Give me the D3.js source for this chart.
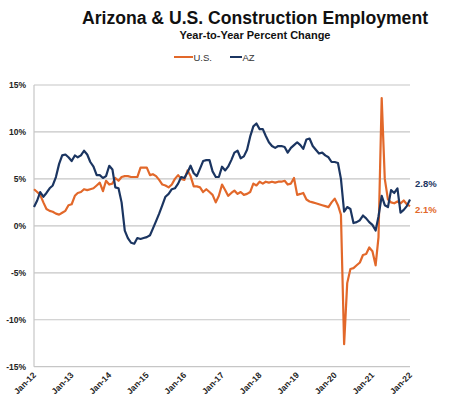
<!DOCTYPE html>
<html><head><meta charset="utf-8">
<script src="https://cdn.jsdelivr.net/npm/d3@7/dist/d3.min.js"></script>
<style>body{margin:0;background:#fff}svg{display:block}</style>
</head><body>
<svg id="c" width="450" height="407"></svg>
<script>
const startDate = "2012-01";
const usValues = [3.9,3.6,3.3,2.5,1.8,1.6,1.5,1.3,1.2,1.4,1.6,2.2,
2.3,3.2,3.5,3.6,3.9,3.8,3.9,4.0,4.3,4.6,3.7,4.8,
4.4,4.5,5.1,4.8,5.2,5.3,5.3,5.2,5.2,5.2,6.2,6.2,
6.2,5.4,5.5,5.3,4.9,4.4,4.3,4.1,4.4,5.0,5.4,5.0,
4.9,5.9,5.3,4.2,4.2,4.1,3.6,3.9,3.6,3.3,2.5,3.2,
4.4,3.8,3.2,3.5,3.75,3.4,3.6,3.3,3.4,3.6,4.5,4.3,
4.7,4.5,4.7,4.6,4.7,4.6,4.7,4.7,4.8,4.4,4.5,5.1,
3.3,3.4,3.5,2.8,2.6,2.5,2.4,2.3,2.2,2.1,2.0,2.5,
2.9,2.2,1.2,-12.6,-6.1,-4.6,-4.5,-4.2,-3.9,-3.1,-3.0,-2.3,
-2.7,-4.2,-1.2,13.6,5.0,2.8,2.5,2.4,2.6,2.4,2.7,2.3,
2.1];
const azValues = [2.0,2.7,3.6,3.1,3.5,4.0,4.3,5.2,6.6,7.5,7.6,7.3,
6.9,7.5,7.3,7.5,8.0,7.6,6.8,6.3,5.4,5.4,5.1,5.3,
6.4,6.0,4.1,4.0,2.5,-0.5,-1.3,-1.8,-1.9,-1.3,-1.4,-1.3,
-1.2,-1.0,-0.3,0.5,1.3,2.2,3.1,3.4,3.9,4.0,4.5,5.2,
5.1,5.7,6.4,5.6,5.3,6.1,6.9,7.0,7.0,5.8,5.2,5.2,
6.3,5.9,6.3,7.0,7.8,8.0,7.2,7.4,8.1,9.5,10.6,10.9,
10.3,10.3,9.6,8.9,8.5,8.3,8.5,8.5,8.4,7.8,8.3,8.6,
8.9,8.6,8.2,9.2,9.3,8.5,8.1,7.7,7.8,7.5,7.3,6.8,
6.8,6.7,5.0,1.5,2.0,1.8,0.3,0.4,0.6,1.1,0.8,0.4,
0.1,-0.5,1.0,3.2,2.2,2.0,3.8,3.5,4.0,1.4,1.7,2.1,
2.8];
const yTicks = [-15,-10,-5,0,5,10,15];
const xTickYears = [2012,2013,2014,2015,2016,2017,2018,2019,2020,2021,2022];
const seriesNames = ["U.S.","AZ"];
const endLabels = ["2.8%","2.1%"];

const usColor = "#E2682A", azColor = "#1B3561";
const svg = d3.select("#c");
const font = "'Liberation Sans', Arial, sans-serif";
const m0 = d3.timeParse("%Y-%m")(startDate);
const dates = usValues.map((_, i) => d3.timeMonth.offset(m0, i));

const x = d3.scaleTime().domain([new Date(2012,0,1), new Date(2022,0,1)]).range([34, 410]);
const y = d3.scaleLinear().domain([-15, 15]).range([366.7, 85]);

// gridlines
svg.append("g").selectAll("line").data(yTicks).join("line")
  .attr("x1", 34).attr("x2", 410).attr("y1", d => y(d)).attr("y2", d => y(d))
  .attr("stroke", "#c6c6c6").attr("stroke-width", 1.2);
svg.append("line").attr("x1",34).attr("x2",34).attr("y1",y(15)).attr("y2",y(-15))
  .attr("stroke","#c6c6c6").attr("stroke-width",1.2);

// y labels
const yAxis = d3.axisLeft(y).tickValues(yTicks).tickSize(0).tickPadding(8).tickFormat(d => d + "%");
const ya = svg.append("g").attr("transform","translate(34,0)").call(yAxis);
ya.select(".domain").remove();
ya.selectAll("text").attr("font-family", font).attr("font-size", 8.5).attr("font-weight","bold").attr("fill","#222");

// x labels
const xAxis = d3.axisBottom(x).tickValues(xTickYears.map(yv => new Date(yv,0,1))).tickSize(0).tickFormat(d3.timeFormat("Jan-%y"));
const xa = svg.append("g").attr("transform", `translate(0,${y(-15)})`).call(xAxis);
xa.select(".domain").remove();
xa.selectAll("text").attr("font-family", font).attr("font-size", 8.5).attr("font-weight","bold").attr("fill","#222")
  .attr("text-anchor","end").attr("dy", null).attr("y", 0)
  .attr("transform","translate(2,9) rotate(-45)");

// lines
const line = d3.line().x((d,i) => x(dates[i])).y(d => y(d));
svg.append("path").datum(usValues).attr("d", line).attr("fill","none")
  .attr("stroke", usColor).attr("stroke-width", 2.2).attr("stroke-linejoin","round");
svg.append("path").datum(azValues).attr("d", line).attr("fill","none")
  .attr("stroke", azColor).attr("stroke-width", 2.2).attr("stroke-linejoin","round");

// end labels
svg.append("text").attr("x", 415).attr("y", y(azValues[azValues.length-1]) - 13)
  .text(endLabels[0]).attr("fill", azColor).attr("font-family", font).attr("font-size", 9.5).attr("font-weight","bold");
svg.append("text").attr("x", 415).attr("y", y(usValues[usValues.length-1]) + 7)
  .text(endLabels[1]).attr("fill", usColor).attr("font-family", font).attr("font-size", 9.5).attr("font-weight","bold");

// title
svg.append("text").attr("x", 255).attr("y", 24).attr("text-anchor","middle")
  .attr("font-family", font).attr("font-size", 17.6).attr("font-weight","bold").attr("fill","#111")
  .text("Arizona & U.S. Construction Employment");
svg.append("text").attr("x", 255).attr("y", 38.5).attr("text-anchor","middle")
  .attr("font-family", font).attr("font-size", 11).attr("font-weight","bold").attr("fill","#111")
  .text("Year-to-Year Percent Change");

// legend
const leg = svg.append("g");
const legItems = [{n: seriesNames[0], c: usColor, x: 174, w: 19}, {n: seriesNames[1], c: azColor, x: 230, w: 12}];
legItems.forEach(it => {
  leg.append("line").attr("x1", it.x).attr("x2", it.x + it.w).attr("y1", 57).attr("y2", 57)
    .attr("stroke", it.c).attr("stroke-width", 2);
  leg.append("text").attr("x", it.x + it.w + 0.5).attr("y", 60.5).text(it.n)
    .attr("font-family", font).attr("font-size", 9.5).attr("fill","#333");
});
</script>
</body></html>
